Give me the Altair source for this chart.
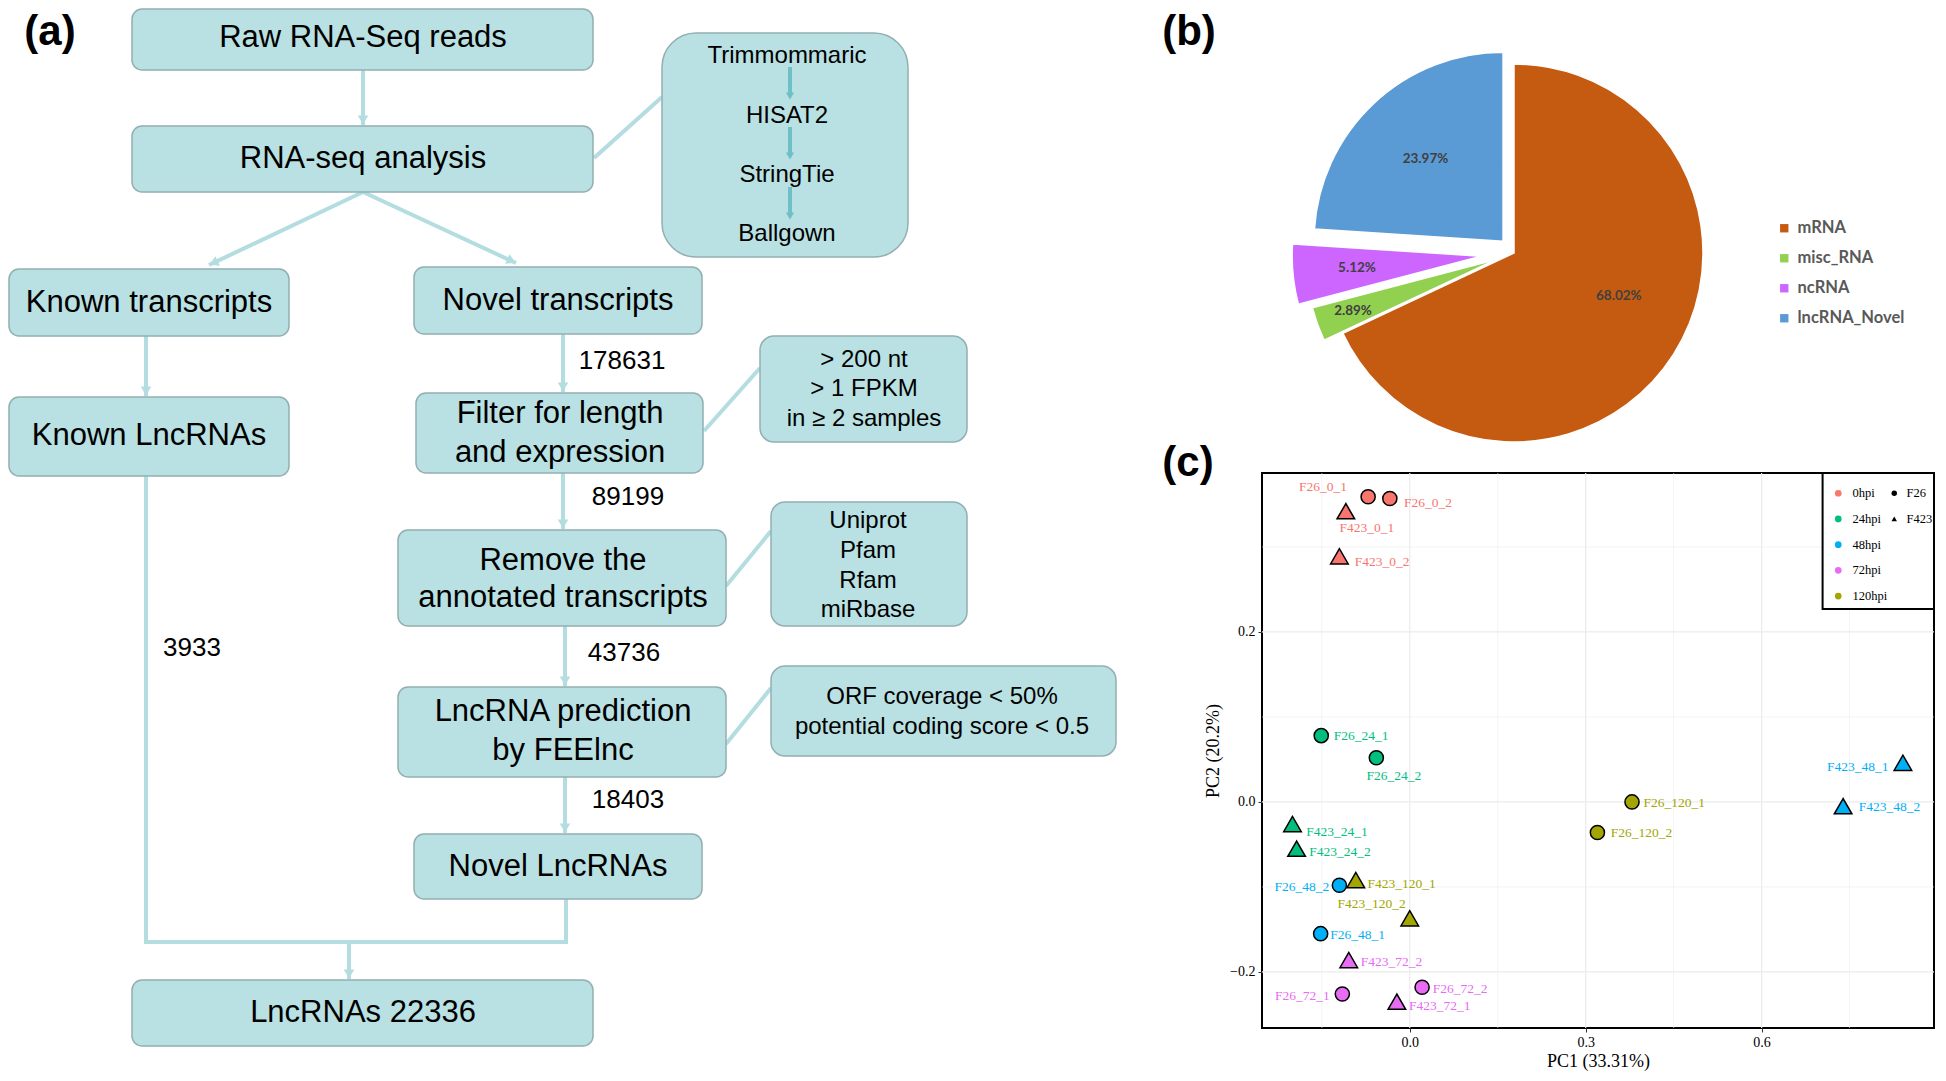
import math
import altair as alt
import numpy as np
import pandas as pd

# ===================== DATA =====================
# ---- (a) flowchart content ----
box_text = ["Raw RNA-Seq reads", "RNA-seq analysis", "Known transcripts",
            "Novel transcripts", "Filter for length", "and expression",
            "Known LncRNAs", "Remove the", "annotated transcripts",
            "LncRNA prediction", "by FEElnc", "Novel LncRNAs", "LncRNAs 22336"]
note_text = ["Trimmommaric", "HISAT2", "StringTie", "Ballgown",
             "> 200 nt", "> 1 FPKM", "in \u2265 2 samples",
             "Uniprot", "Pfam", "Rfam", "miRbase",
             "ORF coverage < 50%", "potential coding score < 0.5"]
step_counts = [178631, 89199, 43736, 18403, 3933]
panel_tags = ["(a)", "(b)", "(c)"]

# ---- (b) pie ----
rna_types = ["mRNA", "misc_RNA", "ncRNA", "lncRNA_Novel"]
rna_percent = [68.02, 2.89, 5.12, 23.97]

# ---- (c) PCA ----
sample_names = ["F26_0_1", "F26_0_2", "F423_0_1", "F423_0_2",
                "F26_24_1", "F26_24_2", "F423_24_1", "F423_24_2",
                "F26_48_1", "F26_48_2", "F423_48_1", "F423_48_2",
                "F26_72_1", "F26_72_2", "F423_72_1", "F423_72_2",
                "F26_120_1", "F26_120_2", "F423_120_1", "F423_120_2"]
pc1 = [-0.071, -0.034, -0.109, -0.120,
       -0.151, -0.057, -0.200, -0.193,
       -0.152, -0.120, 0.841, 0.739,
       -0.115, 0.021, -0.022, -0.104,
       0.379, 0.320, -0.092, 0.000]
pc2 = [0.359, 0.357, 0.342, 0.289,
       0.078, 0.052, -0.026, -0.055,
       -0.155, -0.098, 0.046, -0.005,
       -0.226, -0.218, -0.235, -0.186,
       0.000, -0.036, -0.092, -0.137]
sample_time = ["0hpi"] * 4 + ["24hpi"] * 4 + ["48hpi"] * 4 + ["72hpi"] * 4 + ["120hpi"] * 4
sample_strain = ["F26", "F26", "F423", "F423"] * 5
time_levels = ["0hpi", "24hpi", "48hpi", "72hpi", "120hpi"]
strain_levels = ["F26", "F423"]
x_ticks = [0.0, 0.3, 0.6]
x_minor = [-0.15, 0.15, 0.45, 0.75]
y_ticks = [-0.2, 0.0, 0.2]
y_minor = [-0.1, 0.1, 0.3]

# ===================== LAYOUT / STYLE =====================
SANS = "Liberation Sans"
SERIF = "Liberation Serif"
BOX_FILL = "#B9E0E2"
BOX_STROKE = "#93AFB1"
LINE = "#B3DDE0"
DARK_ARROW = "#6FBFC7"

# flowchart canvas (page pixel coordinates)
FX0, FX1, FY0, FY1 = 8, 1252, 8, 1060
fx = alt.Scale(domain=[FX0, FX1], nice=False, zero=False)
fy = alt.Scale(domain=[FY0, FY1], nice=False, zero=False, reverse=True)

main_box = pd.DataFrame({
    "x0": [132, 132, 9, 414, 416, 9, 398, 398, 414, 132],
    "x1": [593, 593, 289, 702, 703, 289, 726, 726, 702, 593],
    "y0": [8, 125, 268, 266, 392, 396, 529, 686, 833, 979],
    "y1": [69, 191, 335, 333, 472, 475, 625, 776, 898, 1045]})
side_box = pd.DataFrame({"x0": [760, 771, 771], "x1": [967, 967, 1116],
                         "y0": [335, 501, 665], "y1": [441, 625, 755]})
tool_box = pd.DataFrame({"x0": [662], "x1": [908], "y0": [32], "y1": [256]})

box_text_x = [363, 363, 149, 558, 560, 560, 149, 563, 563, 563, 563, 558, 363]
box_text_y = [37, 158, 302, 300, 413, 452, 435, 560, 597, 711, 750, 866, 1012]
note_x = [787, 787, 787, 787, 864, 864, 864, 868, 868, 868, 868, 942, 942]
note_y = [55, 115, 174, 233, 359, 388, 418, 520, 550, 580, 609, 696, 726]
count_x = [622, 628, 624, 628, 192]
count_y = [360, 496, 652, 799, 647]
tag_x = [50, 1189, 1188]
tag_y = [11, 11, 442]

conn = [(363, 69, 363, 124, 1), (363, 191, 209, 264, 1), (363, 191, 516, 262, 1),
        (594, 157, 662, 96, 0), (146, 335, 146, 395, 1), (563, 333, 563, 391, 1),
        (704, 430, 760, 367, 0), (563, 472, 563, 528, 1), (726, 585, 771, 530, 0),
        (565, 625, 565, 685, 1), (726, 743, 771, 687, 0), (565, 776, 565, 832, 1),
        (146, 475, 146, 941, 0), (144, 941, 568, 941, 0), (566, 898, 566, 943, 0),
        (349, 941, 349, 978, 1)]
inner = [(790, 66, 790, 101, 1), (790, 126, 790, 161, 1), (790, 186, 790, 221, 1)]


def seg_frames(segs, back):
    df = pd.DataFrame(segs, columns=["x0", "y0", "x1", "y1", "arrow"])
    dx = df.x1 - df.x0
    dy = df.y1 - df.y0
    ln = np.hypot(dx, dy)
    heads = df[df.arrow == 1].copy()
    ux, uy = (dx / ln)[df.arrow == 1], (dy / ln)[df.arrow == 1]
    heads["hx"] = heads.x1 - back * ux
    heads["hy"] = heads.y1 - back * uy
    heads["ang"] = (np.degrees(np.arctan2(-ux, uy)) + 360) % 360
    return df, heads


conn_df, conn_heads = seg_frames(conn, 5)
inner_df, inner_heads = seg_frames(inner, 6)
inner_df["y1"] = inner_df.y1 - 6


def segs_layer(df, color, width):
    return alt.Chart(df).mark_rule(color=color, strokeWidth=width, strokeCap="butt").encode(
        x=alt.X("x0:Q", scale=fx, axis=None), y=alt.Y("y0:Q", scale=fy, axis=None),
        x2="x1:Q", y2="y1:Q")


def heads_layer(df, color, size):
    return alt.Chart(df).mark_point(shape="triangle-down", filled=True, color=color,
                                    opacity=1, size=size).encode(
        x=alt.X("hx:Q", scale=fx, axis=None), y=alt.Y("hy:Q", scale=fy, axis=None),
        angle=alt.Angle("ang:Q", scale=None))


def box_layer(df, radius):
    return alt.Chart(df).mark_rect(fill=BOX_FILL, stroke=BOX_STROKE, strokeWidth=1.5,
                                   cornerRadius=radius).encode(
        x=alt.X("x0:Q", scale=fx, axis=None), x2="x1:Q",
        y=alt.Y("y0:Q", scale=fy, axis=None), y2="y1:Q")


def text_layer(texts, xs, ys, size, weight="normal", baseline="middle"):
    df = pd.DataFrame({"t": texts, "x": xs, "y": ys})
    return alt.Chart(df).mark_text(font=SANS, fontSize=size, fontWeight=weight, color="black",
                                   baseline=baseline, align="center").encode(
        x=alt.X("x:Q", scale=fx, axis=None), y=alt.Y("y:Q", scale=fy, axis=None), text="t:N")


tags_df = pd.DataFrame({"t": panel_tags, "x": tag_x, "y": tag_y})
tags = alt.Chart(tags_df).mark_text(font=SANS, fontSize=42, fontWeight="bold", color="black",
                                    baseline="top", align="center").encode(
    x=alt.X("x:Q", scale=fx, axis=None), y=alt.Y("y:Q", scale=fy, axis=None), text="t:N")

flow = alt.layer(
    segs_layer(conn_df, LINE, 4),
    box_layer(main_box, 10),
    box_layer(side_box, 14),
    box_layer(tool_box, 34),
    heads_layer(conn_heads, LINE, 110),
    segs_layer(inner_df, DARK_ARROW, 4),
    heads_layer(inner_heads, DARK_ARROW, 70),
    text_layer(box_text, box_text_x, box_text_y, 31),
    text_layer(note_text, note_x, note_y, 24),
    text_layer([str(c) for c in step_counts], count_x, count_y, 26),
    tags,
).properties(width=FX1 - FX0, height=FY1 - FY0)

# ---- (b) pie ----
PIE_W, PIE_H = 672, 454
pie_cx, pie_cy, pie_r = 252, 244, 189
pie_colors = ["#C55A11", "#92D050", "#CC66FF", "#5B9BD5"]
pie_explode = np.array([0, 20, 33, 16])
pie_label_frac = np.array([0.60, 0.80, 0.66, 0.60])
pie_label_turn = np.array([-10.0, 0.0, 0.0, 0.0])

p = np.array(rna_percent)
a1 = np.cumsum(p)
a0 = a1 - p
mid = np.deg2rad((a0 + a1) / 2 * 3.6)
lab_ang = mid + np.deg2rad(pie_label_turn)
pie_df = pd.DataFrame({"type": rna_types, "a0": a0, "a1": a1,
                       "cx": pie_cx + pie_explode * np.sin(mid),
                       "cy": pie_cy - pie_explode * np.cos(mid)})
pie_df["lx"] = pie_df.cx + pie_label_frac * pie_r * np.sin(lab_ang)
pie_df["ly"] = pie_df.cy - pie_label_frac * pie_r * np.cos(lab_ang)
pie_df["lab"] = [f"{v:.2f}%" for v in p]

theta_scale = alt.Scale(domain=[0, 100], range=[0, 2 * math.pi])
arcs = alt.Chart(pie_df).mark_arc(outerRadius=pie_r, stroke="white", strokeWidth=1.5).encode(
    theta=alt.Theta("a0:Q", scale=theta_scale), theta2="a1:Q",
    color=alt.Color("type:N", scale=alt.Scale(domain=rna_types, range=pie_colors),
                    legend=alt.Legend(title=None, orient="none", legendX=514, legendY=211,
                                      symbolType="square", symbolSize=70, symbolStrokeWidth=0,
                                      labelFont="Lato", labelFontWeight="bold", labelFontSize=16.5,
                                      labelColor="#595959", labelOffset=5, rowPadding=13)),
    x=alt.X("cx:Q", scale=None, axis=None, stack=False),
    y=alt.Y("cy:Q", scale=None, axis=None, stack=False))
pie_text = alt.Chart(pie_df).mark_text(font="Lato", fontWeight="bold", fontSize=13.5,
                                       color="#404040").encode(
    x=alt.X("lx:Q", scale=None, axis=None), y=alt.Y("ly:Q", scale=None, axis=None),
    text="lab:N")
pie = alt.layer(arcs, pie_text).properties(width=PIE_W, height=PIE_H)

# ---- (c) PCA ----
PCA_W, PCA_H = 672, 555
time_colors = ["#F8766D", "#00BF7D", "#00B0F6", "#E76BF3", "#A3A500"]
strain_marker_size = {"F26": 200, "F423": 310}
label_x = [-0.148, 0.031, -0.073, -0.047,
           -0.083, -0.027, -0.124, -0.119,
           -0.089, -0.184, 0.764, 0.818,
           -0.183, 0.086, 0.051, -0.031,
           0.451, 0.395, -0.014, -0.065]
label_y = [0.371, 0.352, 0.322, 0.282,
           0.078, 0.031, -0.035, -0.059,
           -0.156, -0.100, 0.041, -0.006,
           -0.228, -0.220, -0.240, -0.188,
           -0.001, -0.037, -0.096, -0.120]
xsc = alt.Scale(domain=[-0.252, 0.894], nice=False, zero=False)
ysc = alt.Scale(domain=[-0.266, 0.387], nice=False, zero=False)
x_axis = alt.Axis(values=x_ticks, format=".1f", grid=False, domain=False, tickColor="#333333",
                  tickSize=4, labelFont=SERIF, labelFontSize=14, labelColor="black",
                  labelPadding=3, title="PC1 (33.31%)", titleFont=SERIF, titleFontSize=18,
                  titleFontWeight="normal", titleColor="black", titlePadding=3)
y_axis = alt.Axis(values=y_ticks, format=".1f", grid=False, domain=False, tickColor="#333333",
                  tickSize=4, labelFont=SERIF, labelFontSize=14, labelColor="black",
                  labelPadding=3, title="PC2 (20.2%)", titleFont=SERIF, titleFontSize=18,
                  titleFontWeight="normal", titleColor="black", titlePadding=7)

pca_df = pd.DataFrame({"sample": sample_names, "PC1": pc1, "PC2": pc2, "time": sample_time,
                       "strain": sample_strain, "lx": label_x, "ly": label_y})


def vgrid(vals, w):
    return alt.Chart(pd.DataFrame({"v": vals})).mark_rule(color="#EBEBEB", strokeWidth=w).encode(
        x=alt.X("v:Q", scale=xsc, axis=x_axis))


def hgrid(vals, w):
    return alt.Chart(pd.DataFrame({"v": vals})).mark_rule(color="#EBEBEB", strokeWidth=w).encode(
        y=alt.Y("v:Q", scale=ysc, axis=y_axis))


legend_box = pd.DataFrame({"x0": [0.704], "x1": [0.894], "y0": [0.227], "y1": [0.387]})
box = alt.Chart(legend_box).mark_rect(fill="white", stroke="black", strokeWidth=2).encode(
    x=alt.X("x0:Q", scale=xsc, axis=x_axis), x2="x1:Q",
    y=alt.Y("y0:Q", scale=ysc, axis=y_axis), y2="y1:Q")

leg_common = dict(title=None, orient="none", legendY=14, symbolOpacity=1, labelFont=SERIF,
                  labelFontSize=12.5, labelColor="black", rowPadding=12.7, padding=0)
fill_enc = alt.Fill("time:N", scale=alt.Scale(domain=time_levels, range=time_colors),
                    legend=alt.Legend(legendX=570, symbolType="circle", symbolSize=45,
                                      symbolStrokeWidth=0, labelOffset=8, **leg_common))
shape_enc = alt.Shape("strain:N", scale=alt.Scale(domain=strain_levels, range=["circle", "triangle-up"]),
                      legend=alt.Legend(legendX=626, symbolSize=30, symbolFillColor="black",
                                        symbolStrokeColor="black", symbolStrokeWidth=0,
                                        labelOffset=6, **leg_common))


def strain_points(strain):
    return alt.Chart(pca_df).transform_filter(alt.datum.strain == strain).mark_point(
        filled=True, stroke="black", strokeWidth=1.5, opacity=1,
        size=strain_marker_size[strain]).encode(
        x=alt.X("PC1:Q", scale=xsc, axis=x_axis),
        y=alt.Y("PC2:Q", scale=ysc, axis=y_axis),
        fill=fill_enc, shape=shape_enc)


labels = alt.Chart(pca_df).mark_text(font=SERIF, fontSize=13.5).encode(
    x=alt.X("lx:Q", scale=xsc, axis=x_axis),
    y=alt.Y("ly:Q", scale=ysc, axis=y_axis),
    text="sample:N",
    color=alt.Color("time:N", scale=alt.Scale(domain=time_levels, range=time_colors), legend=None))

pca = alt.layer(vgrid(x_minor, 0.6), hgrid(y_minor, 0.6), vgrid(x_ticks, 1.2), hgrid(y_ticks, 1.2),
                box, strain_points("F26"), strain_points("F423"), labels).properties(
    width=PCA_W, height=PCA_H,
    view=alt.ViewBackground(stroke="black", strokeWidth=2, fill="white"))

indep = dict(color="independent", fill="independent", shape="independent")
right = alt.vconcat(pie, pca, spacing=10, bounds="flush").resolve_scale(**indep).resolve_legend(**indep)
chart = alt.hconcat(flow, right, spacing=10, bounds="flush").resolve_scale(**indep).resolve_legend(
    **indep).properties(padding=0, background="white").configure_view(strokeWidth=0)

chart.save("out.html", embed_options={"renderer": "svg", "actions": False})
